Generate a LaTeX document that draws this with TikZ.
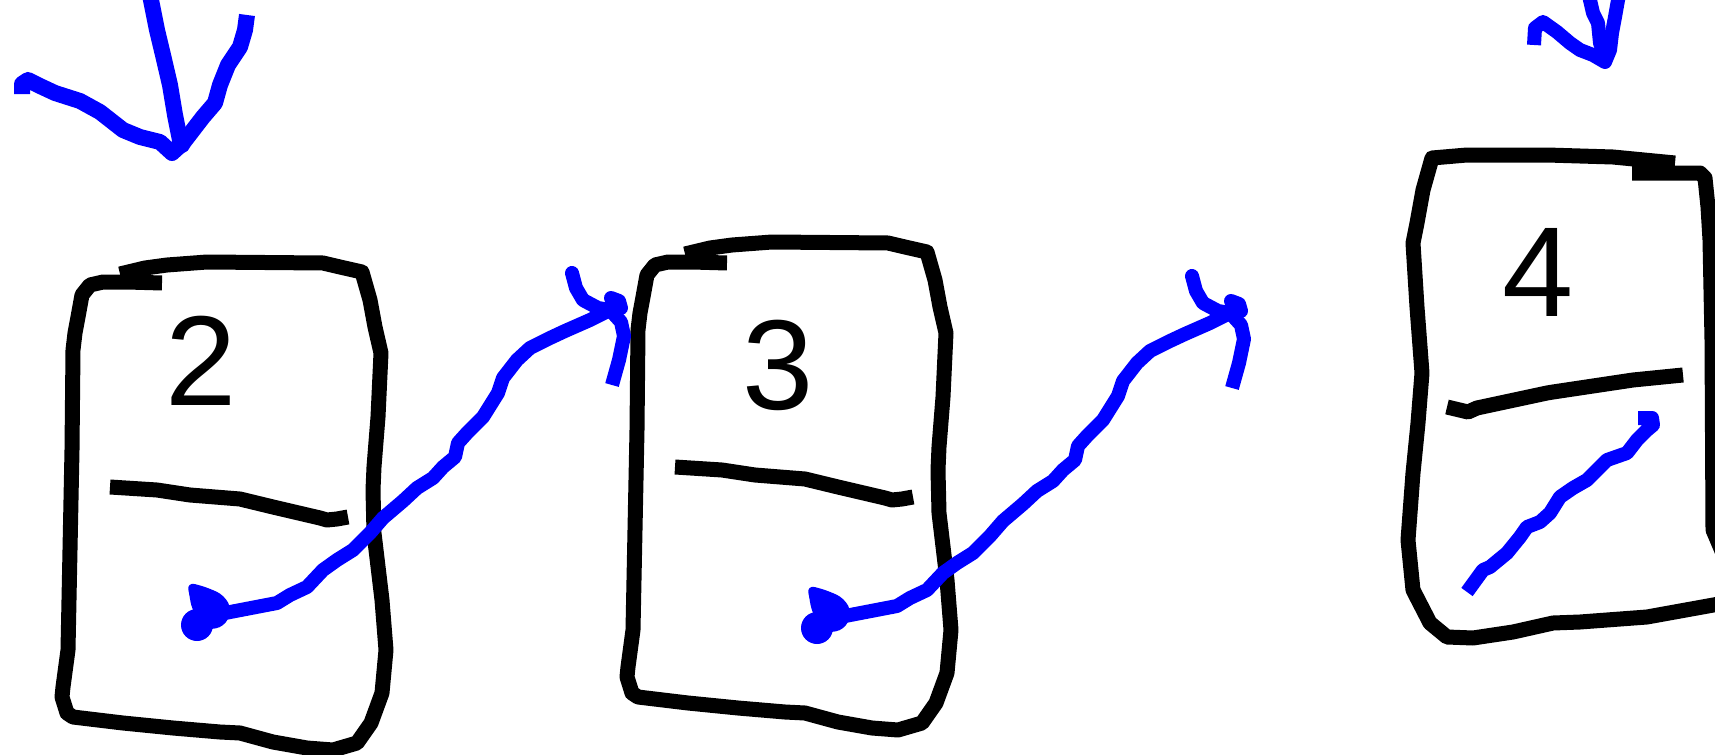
\documentclass[tikz,border=0pt]{standalone}
\usepackage{fontspec}
\setmainfont{Liberation Sans}
\usepackage{tikz}
\definecolor{ink}{RGB}{0,0,0}
\definecolor{pen}{RGB}{0,0,255}
\tikzset{
  boxline/.style={draw=ink,line width=7.5pt,line join=round,line cap=butt},
  penline/.style={draw=pen,line width=7pt,line join=round,line cap=butt},
  bigpen/.style={draw=pen,line width=8pt,line join=round,line cap=round},
  digit/.style={inner sep=0pt,font=\fontsize{64}{64}\selectfont,text=ink},
}
% one hand-drawn cell with its divider
\newcommand{\sketchbox}{%
  \draw[boxline] (120,274) -- (145,268) -- (167,265) -- (207,262) -- (323,263)
    -- (340,267) -- (362,272) -- (370,300) -- (375,327) -- (381,353) -- (378,417)
    -- (374,467) -- (373,490) -- (374,533) -- (382,600) -- (386,650) -- (382,693)
    -- (371,723) -- (357,743) -- (333,750) -- (307,748) -- (273,742) -- (240,733)
    -- (220,732) -- (173,728) -- (123,723) -- (73,717) -- (67,713) -- (62,697)
    -- (63,687) -- (68,650) -- (70,550) -- (72,450) -- (73,350) -- (75,333)
    -- (78,317) -- (82,295) -- (90,285) -- (103,282) -- (127,282) -- (162,283);
  \draw[boxline] (110,487) -- (157,490) -- (190,495) -- (240,499) -- (273,507)
    -- (320,518) -- (327,520) -- (337,519) -- (348,517);
}
% wobbly pointer from one cell to the next
\newcommand{\linkarrow}{%
  \fill[pen] (197,625) circle (16);
  \fill[pen,rounded corners=4pt] (187,582) -- (206,587) -- (224,595) -- (232,610)
    -- (224,627) -- (205,630) -- (192,610) -- cycle;
  \draw[penline] (225,613) -- (277,603) -- (290,595) -- (307,587) -- (323,570)
    -- (337,560) -- (353,550) -- (370,533) -- (383,518) -- (403,501) -- (417,488)
    -- (433,478) -- (443,467) -- (455,457) -- (458,443) -- (467,433) -- (483,417)
    -- (498,393) -- (503,378) -- (517,360) -- (530,348) -- (550,338) -- (565,331)
    -- (590,320) -- (610,310);
  \draw[penline,line cap=round] (572,273) -- (576,288) -- (583,300) -- (598,308) -- (610,310);
  \draw[penline,line cap=round] (611,298) -- (619,301) -- (621,308);
  \draw[penline] (612,312) -- (621,322) -- (624,336) -- (619,360) -- (612,385);
}

\begin{document}
\begin{tikzpicture}[x=0.5pt,y=-0.5pt]
  \clip (0,0) rectangle (1715,755);

  % cells 2 and 3
  \sketchbox
  \begin{scope}[shift={(565,-20)}]
    \sketchbox
  \end{scope}

  % cell 4, cut by the right edge
  \draw[boxline] (1675,163) -- (1613,157) -- (1547,155) -- (1467,155) -- (1432,158)
    -- (1423,190) -- (1417,223) -- (1413,243) -- (1417,307) -- (1422,373)
    -- (1418,423) -- (1413,473) -- (1408,540) -- (1413,590) -- (1430,623)
    -- (1447,637) -- (1473,638) -- (1513,632) -- (1553,623) -- (1580,622)
    -- (1647,617) -- (1730,602) -- (1730,570) -- (1713,530) -- (1712,340)
    -- (1710,240) -- (1708,207) -- (1705,178) -- (1700,173) -- (1632,173);
  \draw[boxline] (1447,407) -- (1468,412) -- (1477,408) -- (1547,393) -- (1553,392)
    -- (1613,383) -- (1633,380) -- (1683,375);

  \node[digit] (two)   at (201,361)  {2};
  \node[digit] (three) at (778,365)  {3};
  \node[digit] (four)  at (1538,272) {4};

  % pointers between the cells
  \linkarrow
  \begin{scope}[shift={(620,3)}]
    \linkarrow
  \end{scope}
  \draw[penline] (1467,592) -- (1483,570) -- (1490,567) -- (1507,553) -- (1520,537)
    -- (1527,527) -- (1540,522) -- (1550,513) -- (1560,497) -- (1573,488)
    -- (1587,480) -- (1607,460) -- (1627,453) -- (1637,440) -- (1647,430)
    -- (1653,425) -- (1652,418) -- (1638,418);

  % head pointer, top left
  \draw[bigpen,line cap=butt] (22,94) -- (22,84) -- (28,80) -- (40,86) -- (55,93)
    -- (80,101) -- (100,112) -- (123,130) -- (140,137) -- (160,142) -- (172,153)
    -- (183,143) -- (203,117) -- (215,103) -- (220,85) -- (228,65) -- (240,47)
    -- (245,30) -- (247,15);
  \draw[bigpen] (150,-5) -- (157,30) -- (163,55) -- (170,85) -- (175,115)
    -- (180,140) -- (182,145);

  % marks at the top right
  \draw[penline] (1534,45) -- (1535,28) -- (1543,22) -- (1557,32) -- (1570,43)
    -- (1580,50) -- (1593,55) -- (1605,62) -- (1610,50) -- (1612,33) -- (1615,17)
    -- (1618,0) -- (1619,-5);
  \draw[penline] (1589,-5) -- (1590,0) -- (1593,13) -- (1598,23) -- (1600,43)
    -- (1605,57);
\end{tikzpicture}
\end{document}
